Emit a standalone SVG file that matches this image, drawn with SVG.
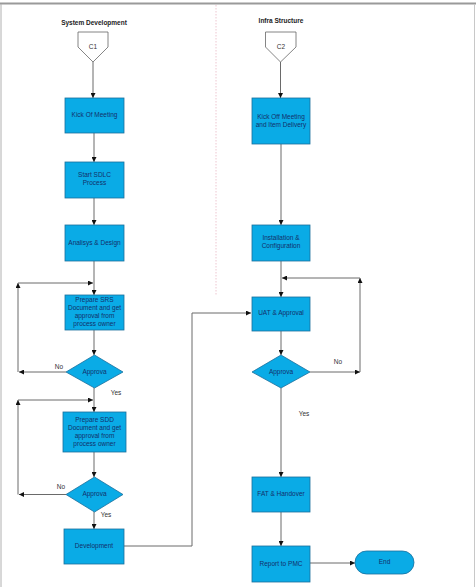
<svg xmlns="http://www.w3.org/2000/svg" width="476" height="587" viewBox="0 0 476 587">
<defs>
<marker id="ah" viewBox="0 0 6 6" refX="6" refY="3" markerWidth="5" markerHeight="5" markerUnits="userSpaceOnUse" orient="auto">
<path d="M0,0 L6,3 L0,6 z" fill="#111"/>
</marker>
</defs>
<style>
.box{fill:#0aabe6;stroke:#1a6f9c;stroke-width:0.8}
.t{font-family:"Liberation Sans",Arial,sans-serif;font-size:6.5px;fill:#13306a;text-anchor:middle;dominant-baseline:middle}
.h{font-family:"Liberation Sans",Arial,sans-serif;font-size:6.5px;font-weight:bold;fill:#222;text-anchor:middle;dominant-baseline:middle}
.l{font-family:"Liberation Sans",Arial,sans-serif;font-size:6.5px;fill:#333;text-anchor:middle;dominant-baseline:middle}
.c{fill:none;stroke:#6a6a6a;stroke-width:1}
.a{fill:none;stroke:#6a6a6a;stroke-width:1;marker-end:url(#ah)}
.off{fill:#fff;stroke:#666;stroke-width:0.8}
</style>
<rect width="476" height="587" fill="#fff"/>
<line x1="0" y1="3.5" x2="476" y2="3.5" stroke="#9a9a9a" stroke-width="2"/>
<line x1="1" y1="4" x2="1" y2="587" stroke="#b0b0b0" stroke-width="1"/>
<line x1="474.5" y1="4" x2="474.5" y2="587" stroke="#c8c8c8" stroke-width="1"/>
<line x1="216" y1="5" x2="216" y2="295" stroke="#e8b8c4" stroke-width="0.8" stroke-dasharray="1.5,1.5"/>

<text class="h" x="94" y="23">System Development</text>
<text class="h" x="281" y="21.5">Infra Structure</text>

<g id="connectors">
<line class="a" x1="93" y1="62" x2="93" y2="98"/>
<line class="a" x1="94" y1="133" x2="94" y2="162"/>
<line class="a" x1="94" y1="198" x2="94" y2="225"/>
<line class="a" x1="94" y1="261" x2="94" y2="295"/>
<line class="a" x1="94" y1="330" x2="94" y2="355"/>
<line class="a" x1="66" y1="372" x2="19" y2="372"/>
<line class="a" x1="18" y1="372" x2="18" y2="283"/>
<line class="a" x1="18" y1="283" x2="93" y2="283"/>
<line class="a" x1="94" y1="388" x2="94" y2="412"/>
<line class="a" x1="66" y1="494.5" x2="19" y2="494.5"/>
<line class="a" x1="18" y1="494.5" x2="18" y2="400"/>
<line class="a" x1="18" y1="400" x2="93" y2="400"/>
<line class="a" x1="94" y1="452" x2="94" y2="477"/>
<line class="a" x1="94" y1="512" x2="94" y2="529"/>
<polyline class="a" points="124,546 192,546 192,313 251,313"/>
<line class="a" x1="280.5" y1="62" x2="280.5" y2="98"/>
<line class="a" x1="281" y1="144" x2="281" y2="225"/>
<line class="a" x1="281" y1="261" x2="281" y2="297"/>
<line class="a" x1="281" y1="331" x2="281" y2="355"/>
<line class="a" x1="310" y1="372" x2="360" y2="372"/>
<line class="a" x1="360" y1="372" x2="360" y2="278"/>
<line class="a" x1="360" y1="278" x2="282" y2="278"/>
<line class="a" x1="281" y1="388" x2="281" y2="477"/>
<line class="a" x1="281" y1="512" x2="281" y2="546"/>
<line class="a" x1="310" y1="563" x2="355" y2="563"/>
<text class="l" x="59" y="367">No</text>
<text class="l" x="116" y="393">Yes</text>
<text class="l" x="61" y="487">No</text>
<text class="l" x="106" y="515">Yes</text>
<text class="l" x="338" y="362">No</text>
<text class="l" x="304" y="414">Yes</text>
</g>

<g id="c1">
<polygon class="off" points="78,32 108,32 108,47 93,62 78,47"/>
<text class="t" x="93" y="47" fill="#333" style="fill:#333">C1</text>
</g>
<g id="kickof">
<rect class="box" x="65" y="98" width="59" height="35"/>
<text class="t" x="94.5" y="115.5">Kick Of Meeting</text>
</g>
<g id="sdlc">
<rect class="box" x="65" y="162" width="59" height="36"/>
<text class="t" x="94.5" y="175">Start SDLC</text>
<text class="t" x="94.5" y="183">Process</text>
</g>
<g id="analysis">
<rect class="box" x="65" y="225" width="59" height="36"/>
<text class="t" x="94.5" y="243">Analisys &amp; Design</text>
</g>
<g id="srs">
<rect class="box" x="65" y="295" width="59" height="35"/>
<text class="t" x="94.5" y="300.5">Prepare SRS</text>
<text class="t" x="94.5" y="308.5">Document and get</text>
<text class="t" x="94.5" y="316.5">approval from</text>
<text class="t" x="94.5" y="324.5">process owner</text>
</g>
<g id="approval1">
<polygon class="box" points="94.5,355 123,372 94.5,388 66,372"/>
<text class="t" x="94.5" y="372">Approva</text>
</g>
<g id="sdd">
<rect class="box" x="63" y="412" width="63" height="40"/>
<text class="t" x="94.5" y="420">Prepare SDD</text>
<text class="t" x="94.5" y="428">Document and get</text>
<text class="t" x="94.5" y="436">approval from</text>
<text class="t" x="94.5" y="444">process owner</text>
</g>
<g id="approval2">
<polygon class="box" points="94.5,477 123,494.5 94.5,512 66,494.5"/>
<text class="t" x="94.5" y="494">Approva</text>
</g>
<g id="development">
<rect class="box" x="64" y="529" width="60" height="35"/>
<text class="t" x="94" y="546.5">Development</text>
</g>

<g id="c2">
<polygon class="off" points="265.5,32 296,32 296,47 280.5,62 265.5,47"/>
<text class="t" x="281" y="47" style="fill:#333">C2</text>
</g>
<g id="kickoff">
<rect class="box" x="252" y="98" width="58" height="46"/>
<text class="t" x="281" y="117">Kick Off Meeting</text>
<text class="t" x="281" y="125.5">and Item Delivery</text>
</g>
<g id="installation">
<rect class="box" x="252" y="225" width="58" height="36"/>
<text class="t" x="281" y="238.5">Installation &amp;</text>
<text class="t" x="281" y="246.5">Configuration</text>
</g>
<g id="uat">
<rect class="box" x="252" y="297" width="58" height="34"/>
<text class="t" x="281" y="313.5">UAT &amp; Approval</text>
</g>
<g id="approval3">
<polygon class="box" points="281,355 310,372 281,388 252,372"/>
<text class="t" x="281" y="372">Approva</text>
</g>
<g id="fat">
<rect class="box" x="252" y="477" width="58" height="35"/>
<text class="t" x="281" y="494.5">FAT &amp; Handover</text>
</g>
<g id="report">
<rect class="box" x="252" y="546" width="58" height="36"/>
<text class="t" x="281" y="564">Report to PMC</text>
</g>
<g id="end">
<rect class="box" x="355" y="551" width="59" height="23" rx="11.5" ry="11.5"/>
<text class="t" x="384.5" y="562.5">End</text>
</g>
</svg>
